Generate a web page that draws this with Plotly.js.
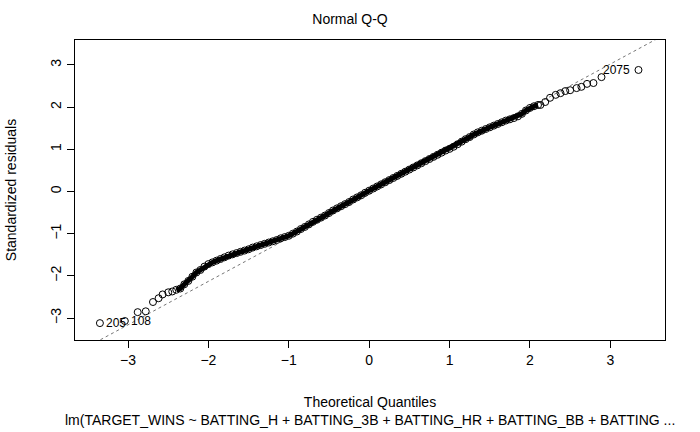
<!DOCTYPE html>
<html>
<head>
<script src="https://cdn.plot.ly/plotly-3.0.1.min.js"></script>
<style>body{margin:0;background:#fff}</style>
</head>
<body>
<div id="plot" style="width:700px;height:432px"></div>
<script>
// theoretical quantiles and standardized residuals
var theo = [-3.35, -3.04, -2.88, -2.78, -2.69, -2.62, -2.57, -2.50, -2.45,
  -2.40, -2.35, -2.30, -2.25, -2.20, -2.15, -2.10, -2.05, -2.00, -1.95, -1.90, -1.85,
  -1.80, -1.75, -1.70, -1.65, -1.60, -1.55, -1.50, -1.45, -1.40, -1.35, -1.30, -1.25,
  -1.20, -1.15, -1.10, -1.05, -1.00, -0.95, -0.90, -0.85, -0.80, -0.75, -0.70, -0.65,
  -0.60, -0.55, -0.50, -0.45, -0.40, -0.35, -0.30, -0.25, -0.20, -0.15, -0.10, -0.05,
  0.00, 0.05, 0.10, 0.15, 0.20, 0.25, 0.30, 0.35, 0.40, 0.45, 0.50, 0.55, 0.60, 0.65,
  0.70, 0.75, 0.80, 0.85, 0.90, 0.95, 1.00, 1.05, 1.10, 1.15, 1.20, 1.25, 1.30, 1.35,
  1.40, 1.45, 1.50, 1.55, 1.60, 1.65, 1.70, 1.75, 1.80, 1.85, 1.90, 1.95, 2.00, 2.05, 2.10,
  2.13, 2.19, 2.25, 2.32, 2.38, 2.44, 2.50, 2.58, 2.64, 2.71, 2.79, 2.89, 3.35];
var resid = [-3.12, -3.07, -2.86, -2.84, -2.62, -2.53, -2.44, -2.39, -2.37,
  -2.33, -2.30, -2.20, -2.12, -2.02, -1.92, -1.86, -1.78, -1.72, -1.68, -1.64, -1.60,
  -1.56, -1.52, -1.49, -1.46, -1.43, -1.40, -1.37, -1.33, -1.30, -1.27, -1.24, -1.21,
  -1.18, -1.15, -1.11, -1.08, -1.05, -1.00, -0.95, -0.89, -0.84, -0.78, -0.72, -0.67,
  -0.62, -0.57, -0.51, -0.45, -0.40, -0.35, -0.30, -0.25, -0.19, -0.14, -0.09, -0.03,
  0.02, 0.07, 0.12, 0.17, 0.22, 0.27, 0.32, 0.37, 0.42, 0.47, 0.52, 0.57, 0.62, 0.67,
  0.72, 0.77, 0.82, 0.87, 0.92, 0.97, 1.01, 1.06, 1.12, 1.18, 1.24, 1.29, 1.35, 1.40,
  1.44, 1.48, 1.52, 1.56, 1.60, 1.64, 1.68, 1.71, 1.74, 1.78, 1.84, 1.92, 1.98, 2.02, 2.05,
  2.05, 2.12, 2.22, 2.29, 2.33, 2.38, 2.40, 2.45, 2.48, 2.55, 2.57, 2.71, 2.88];
// the dense middle part of the sample, drawn as a solid band
var denseFrom = 9;
var denseTo = 100;
var refX = [-4, 4];
var refY = [-4.19, 4.05];
var labelText = ['205', '108', '2075'];
var labelX = [-3.35, -3.04, 3.35];
var labelY = [-3.12, -3.07, 2.88];
var labelSide = ['left', 'left', 'right'];

var font = {family: 'Liberation Sans, Arial, sans-serif', size: 14, color: '#000'};

var annotations = labelText.map(function (t, i) {
  return {x: labelX[i], y: labelY[i], text: t, showarrow: false,
    xanchor: labelSide[i], xshift: labelSide[i] == 'left' ? 4 : -6,
    font: {family: font.family, size: 12, color: '#000'}};
});
annotations.push({xref: 'paper', yref: 'paper', x: 0.5, y: 0, yshift: -70,
  xanchor: 'center', yanchor: 'top', showarrow: false, font: font,
  text: 'lm(TARGET_WINS ~ BATTING_H + BATTING_3B + BATTING_HR + BATTING_BB + BATTING ...'});

var traces = [
  {x: refX, y: refY, mode: 'lines', type: 'scatter', hoverinfo: 'skip',
    line: {color: '#777', width: 1, dash: 'dot'}},
  {x: theo.slice(denseFrom, denseTo), y: resid.slice(denseFrom, denseTo),
    mode: 'lines', type: 'scatter', line: {color: '#000', width: 5}},
  {x: theo, y: resid, mode: 'markers', type: 'scatter',
    marker: {symbol: 'circle-open', size: 7, color: '#000', line: {width: 1}}}
];

var layout = {
  width: 700, height: 432, showlegend: false,
  margin: {l: 75, r: 35, t: 40, b: 92},
  paper_bgcolor: '#fff', plot_bgcolor: '#fff',
  font: font,
  title: {text: 'Normal Q-Q', x: 0.5, y: 0.955, yanchor: 'middle', font: font},
  xaxis: {range: [-3.66, 3.68], tickvals: [-3, -2, -1, 0, 1, 2, 3],
    ticks: 'outside', ticklen: 7, tickcolor: '#000', showgrid: false, zeroline: false,
    showline: true, mirror: true, linecolor: '#000', linewidth: 1,
    title: {text: 'Theoretical Quantiles', font: font, standoff: 30}},
  yaxis: {range: [-3.52, 3.59], tickvals: [-3, -2, -1, 0, 1, 2, 3], tickangle: -90,
    ticks: 'outside', ticklen: 7, tickcolor: '#000', showgrid: false, zeroline: false,
    showline: true, mirror: true, linecolor: '#000', linewidth: 1,
    title: {text: 'Standardized residuals', font: font, standoff: 28}},
  annotations: annotations
};

Plotly.newPlot('plot', traces, layout, {staticPlot: true});
</script>
</body>
</html>
